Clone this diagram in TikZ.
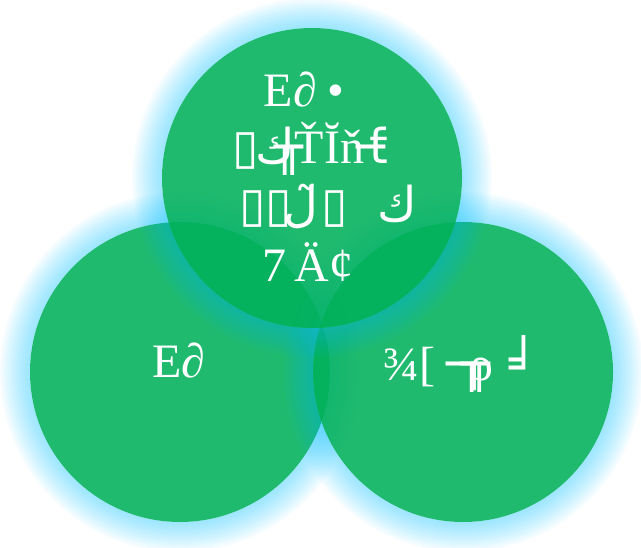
\documentclass[tikz,border=0pt]{standalone}
\usepackage{fontspec}
\setmainfont{Liberation Serif}
\newfontfamily\djs{DejaVu Sans}
\definecolor{vgreen}{RGB}{0,176,90}
\definecolor{glowc}{RGB}{0,190,255}
\tikzset{
  bubble/.style={fill=vgreen, fill opacity=0.88},
  bigtxt/.style={text=white, inner sep=0pt, anchor=base, font=\fontsize{36}{43}\selectfont},
}
\newcommand{\glowat}[1]{%
  \foreach \d in {2,4,...,30} {
    \pgfmathsetmacro{\rr}{(150+\d)*0.75}
    \fill[glowc, opacity=0.03, even odd rule] (#1) circle[radius=\rr pt] (#1) circle[radius=112.5pt];
  }%
}
\begin{document}
\begin{tikzpicture}[x=0.75pt,y=-0.75pt]
\useasboundingbox (0,0) rectangle (641,548);
\coordinate (cl) at (180,372);
\coordinate (cr) at (463,372);
\coordinate (ct) at (312,178);
% left circle
\glowat{cl}
\fill[bubble] (cl) circle[radius=112.5pt];
% right circle
\glowat{cr}
\fill[bubble] (cr) circle[radius=112.5pt];
% top circle
\glowat{ct}
\fill[bubble] (ct) circle[radius=112.5pt];
% texts top
\node[bigtxt] (t1) at (304,107) {E∂\hspace{8pt}•};
\node[bigtxt] (t2) at (310,164) {{\djs ▯}\kern-2pt{\djs ك}\kern-16pt{\djs ╥}\kern-6pt ŤĬň\kern-6pt{\djs ─}\kern-12pt{\djs ƭ}};
\node[bigtxt] (t3) at (328,222) {{\djs ▯▯}\kern-6pt{\djs ل̃}\kern2pt{\djs ▯}\hspace{22pt}{\djs ك}};
\node[bigtxt] (t4) at (308,282) {7\,Ä¢};
% side texts
\node[bigtxt] (l1) at (179,377) {E∂};
\node[bigtxt] (r1) at (461,380) {¾[\hspace{8pt}{\djs ─}\kern-10pt{\djs ╥}\kern-16pt ρ\hspace{12pt}{\djs ╛}};
\end{tikzpicture}
\end{document}
